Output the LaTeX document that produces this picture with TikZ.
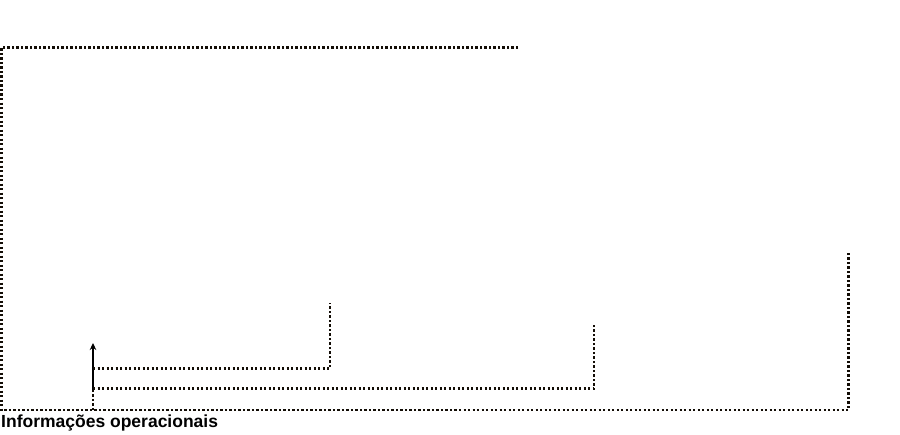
\documentclass[tikz,border=0pt]{standalone}
\usepackage{fontspec}
\setmainfont{Liberation Sans}
\usetikzlibrary{arrows.meta}
\begin{document}
\begin{tikzpicture}[x=1pt,y=-1pt,
  dots/.style={line width=2.1pt,dash pattern=on 2.2pt off 2.3pt,color=black!90!brown},
  solidarrow/.style={line width=2pt,-{Stealth[length=7pt,width=6.5pt]}}]
\useasboundingbox (0,0) rectangle (900,434);
\coordinate (tr) at (518,47.5);
\coordinate (tl) at (1.5,47.5);
\coordinate (bl) at (1.5,410);
\coordinate (br) at (848.5,410);
\coordinate (rt) at (848.5,251);
\coordinate (a0) at (93,410);
\coordinate (a1) at (93,390);
\coordinate (a2) at (93,343);
\coordinate (m1) at (93,388.5);
\coordinate (m2) at (594,388.5);
\coordinate (m3) at (594,323);
\coordinate (n1) at (93,368.5);
\coordinate (n2) at (330,368.5);
\coordinate (n3) at (330,303);
\draw[dots] (tr) -- (tl) -- (bl) -- (br) -- (rt);
\draw[dots] (a0) -- (a1);
\draw[solidarrow] (a1) -- (a2);
\draw[dots] (m1) -- (m2) -- (m3);
\draw[dots] (n1) -- (n2) -- (n3);
\node[anchor=base west,inner sep=0pt,font=\bfseries\fontsize{17.5}{20}\selectfont] (lbl) at (1,427) {Informações operacionais};
\end{tikzpicture}
\end{document}
